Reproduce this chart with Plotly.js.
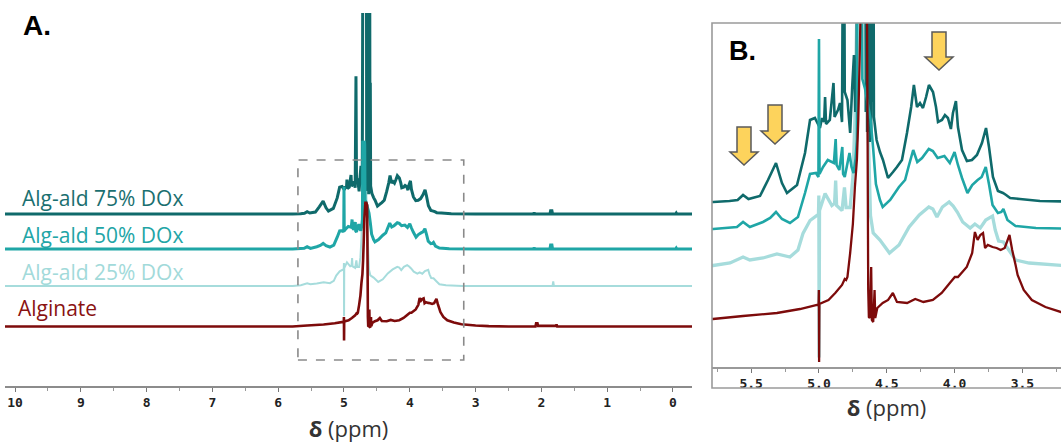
<!DOCTYPE html>
<html>
<head>
<meta charset="utf-8">
<script src="https://cdn.plot.ly/plotly-3.0.1.min.js"></script>
<style>html,body{margin:0;padding:0;background:#fff;}#chart{width:1061px;height:446px;}</style>
</head>
<body>
<div id="chart"></div>
<script>
// ---- Data: chemical shift (ppm) and relative intensity (arbitrary units) ----
const seriesNames = ["Alg-ald 75% DOx", "Alg-ald 50% DOx", "Alg-ald 25% DOx", "Alginate"];

const ppm75 = [10.2,5.90,5.78,5.66,5.60,5.56,5.52,5.435,5.376,5.317,5.273,5.236,5.162,5.103,5.066,5.03,4.993,4.978,4.962,4.955,4.948,4.92,4.893,4.885,4.86,4.845,4.83,4.818,4.81,4.79,4.77,4.755,4.742,4.732,4.722,4.715,4.705,4.69,4.675,4.66,4.655,4.65,4.645,4.64,4.635,4.63,4.625,4.62,4.615,4.61,4.605,4.60,4.595,4.575,4.55,4.528,4.491,4.454,4.425,4.388,4.351,4.32,4.30,4.277,4.255,4.233,4.21,4.189,4.159,4.137,4.122,4.093,4.071,4.049,4.027,4.012,3.99,3.975,3.945,3.909,3.872,3.835,3.798,3.768,3.746,3.717,3.68,3.643,3.62,3.59,3.518,3.37,3.0,2.12,2.11,2.10,1.87,1.86,1.84,1.83,-0.04,-0.05,-0.06,-0.3];
const int75 = [0,0,0,1,2,7,3,6,22,39,19,9,17,49,82,84,74,84,80,105,78,82,119,85,92,99,80,420,110,102,69,115,147,90,110,700,1000,1000,1000,1000,90,1000,70,1000,80,1000,60,1000,70,1000,100,400,85,62,50,42,24,30,35,42,69,95,117,95,99,94,105,117,110,95,80,82,87,84,73,89,101,75,52,41,42,47,59,74,55,25,11,9,7,4,3,1,0,0,4,0,0,10,10,0,0,3,0,0];

const ppm50 = [10.2,5.90,5.78,5.605,5.56,5.51,5.413,5.36,5.317,5.273,5.214,5.155,5.103,5.066,5.022,5.004,5.0,4.996,4.97,4.935,4.89,4.877,4.87,4.85,4.828,4.822,4.81,4.775,4.76,4.745,4.73,4.72,4.715,4.70,4.69,4.685,4.68,4.66,4.64,4.62,4.60,4.58,4.55,4.53,4.475,4.41,4.365,4.34,4.305,4.275,4.24,4.19,4.16,4.125,4.075,4.035,4.0,3.975,3.945,3.905,3.87,3.83,3.80,3.77,3.745,3.72,3.68,3.655,3.64,3.61,3.55,3.4,3.0,2.12,2.11,2.10,1.87,1.86,1.84,1.83,-0.04,-0.05,-0.06,-0.3];
const int50 = [0,0,0,2,7,2,7,11,17,10,6,12,36,55,56,52,190,55,62,69,66,90,64,59,82,55,52,76,62,56,70,90,330,310,330,320,150,140,125,110,80,45,29,22,29,42,49,62,79,67,71,80,78,71,73,66,77,64,51,36,44,49,52,62,44,24,16,17,20,9,3,1,0,0,4,0,0,12,12,0,0,3,0,0];

const ppm25 = [10.2,5.90,5.78,5.656,5.56,5.51,5.413,5.31,5.214,5.155,5.118,5.066,5.015,5.004,5.001,4.999,4.996,4.955,4.905,4.885,4.877,4.87,4.83,4.812,4.80,4.77,4.75,4.735,4.72,4.70,4.68,4.66,4.64,4.62,4.60,4.55,4.48,4.41,4.335,4.26,4.19,4.16,4.13,4.09,4.04,4.01,3.98,3.94,3.885,3.85,3.81,3.77,3.72,3.70,3.675,3.64,3.60,3.55,3.45,3.2,1.83,1.82,1.81,-0.3];
const int25 = [0,0,0,2.5,8.5,5.5,7.5,11.5,8.5,15.5,32,45,50,50,70,-92,55,72,60,62,85,60,55,78,58,58,88,145,260,300,300,280,150,50,32.5,25.5,12.5,20.5,38.5,50.5,58.5,56.5,48.5,58.5,63.5,59.5,53.5,43.5,37.5,41.5,37.5,45.5,49.5,35.5,24.5,23.5,15.5,5.5,2.5,0,0,14,0,0];

const ppmAlg = [10.2,6.5,5.782,5.56,5.31,5.14,5.015,5.003,5.001,4.999,4.997,4.93,4.88,4.83,4.81,4.80,4.79,4.77,4.75,4.735,4.72,4.71,4.70,4.69,4.675,4.66,4.648,4.642,4.637,4.632,4.625,4.615,4.61,4.60,4.59,4.585,4.57,4.53,4.49,4.455,4.425,4.35,4.29,4.23,4.16,4.095,4.035,3.998,3.975,3.91,3.87,3.85,3.83,3.81,3.79,3.775,3.755,3.72,3.69,3.66,3.63,3.595,3.575,3.55,3.535,3.49,3.43,3.33,3.215,3.0,2.8,2.5,2.09,2.08,2.06,2.05,1.78,1.77,1.76,-0.3];
const intAlg = [0,0,0,3,6,10,14,14,29,-43,15,19,26,34,40,39,42,66,95,132,160,200,260,330,377,377,370,200,30,2,1,52,-1,-3,29,1,11,16,19,26,17,16,20,17,19,26,36,42,42,52,66,87,79,84,86,71,74,72,71,69,71,84,69,54,44,29,19,12,7,3,1,0,0,10,10,2,2,6,0,0];

const tickValsB = [5.5, 5.0, 4.5, 4.0, 3.5];

// ---- Geometry / style ----
const W = 1061, H = 446;
const px = x => x / W, py = y => 1 - y / H;
const colors = ["#0f6a6b", "#1fa6a6", "#a6dcdc", "#7d0b0b"];
const labelColors = ["#1a6f70", "#22a5a6", "#a2dada", "#8a1212"];
// pixel baselines (panel A / panel B) and scale
const kA = 3.05;
const axisA = 386, topA = 13, axisB = 367, topB = 23;
const baseA = [214, 249, 286, 326.5];
const baseB = [202, 229, 265.5, 319];
const widthA = [3, 3, 2, 2.6];
const widthB = [2.6, 2.6, 3.3, 2.3];

const xs = [ppm75, ppm50, ppm25, ppmAlg];
const ys = [int75, int50, int25, intAlg];
const order = [2, 0, 1, 3]; // draw order

const traces = [];
order.forEach(i => {
  const offA = (axisA - baseA[i]) * kA;
  traces.push({x: xs[i], y: ys[i].map(v => v + offA), xaxis: 'x', yaxis: 'y', type: 'scatter', mode: 'lines',
    line: {color: colors[i], width: widthA[i], simplify: false}, hoverinfo: 'skip', name: seriesNames[i]});
});
order.forEach(i => {
  const offB = axisB - baseB[i];
  traces.push({x: xs[i], y: ys[i].map(v => v + offB), xaxis: 'x2', yaxis: 'y2', type: 'scatter', mode: 'lines',
    line: {color: colors[i], width: widthB[i], simplify: false}, hoverinfo: 'skip', name: seriesNames[i]});
});

const tickFont = {family: 'DejaVu Sans Mono', size: 13, color: '#222', weight: 'bold'};
const titleFont = {family: 'Open Sans', size: 22, color: '#333'};

function arrow(cx, top, hs, tip) {
  return {type: 'path', xref: 'paper', yref: 'paper',
    path: `M ${px(cx-7)},${py(top)} L ${px(cx+7)},${py(top)} L ${px(cx+7)},${py(hs)} L ${px(cx+14)},${py(hs)} L ${px(cx)},${py(tip)} L ${px(cx-14)},${py(hs)} L ${px(cx-7)},${py(hs)} Z`,
    fillcolor: '#fdd35c', line: {color: '#5a5a5a', width: 1.5}};
}

const annotations = [
  {text: '<b>A.</b>', x: px(21), y: py(25), xref: 'paper', yref: 'paper', xanchor: 'left', yanchor: 'middle', showarrow: false,
   font: {family: 'Liberation Sans', size: 28, color: '#000'}},
  {text: '<b>B.</b>', x: px(727), y: py(51), xref: 'paper', yref: 'paper', xanchor: 'left', yanchor: 'middle', showarrow: false,
   font: {family: 'Liberation Sans', size: 27, color: '#000'}},
];
const labelY = [198, 235, 272, 308];
const labelX = [20, 20, 20, 16];
seriesNames.forEach((n, i) => annotations.push({text: n, x: px(labelX[i]), y: py(labelY[i]), xref: 'paper', yref: 'paper',
  xanchor: 'left', yanchor: 'middle', showarrow: false, font: {family: 'Open Sans', size: 21, color: labelColors[i]}}));

const layout = {
  width: W, height: H, margin: {l: 0, r: 0, t: 0, b: 0}, showlegend: false,
  paper_bgcolor: '#fff', plot_bgcolor: 'rgba(0,0,0,0)',
  xaxis: {domain: [px(5), px(692)], range: [10.152, -0.289], anchor: 'y', showline: true, linecolor: '#8c8c8c', linewidth: 1.5,
    showgrid: false, zeroline: false, ticks: 'outside', ticklen: 4, tickcolor: '#777', tickwidth: 1, dtick: 1, tick0: 0,
    minor: {dtick: 0.5, ticks: 'outside', ticklen: 3, tickcolor: '#999'}, tickfont: tickFont,
    title: {text: '<b>δ</b> (ppm)', font: titleFont, standoff: 12}},
  yaxis: {domain: [py(axisA), py(topA)], range: [0, (axisA - topA) * kA], visible: false, fixedrange: true},
  xaxis2: {domain: [px(712), 1], range: [5.789, 3.215], anchor: 'y2', showline: true, linecolor: '#999', linewidth: 1.5,
    showgrid: false, zeroline: false, ticks: 'outside', ticklen: 4, tickcolor: '#777', tickvals: tickValsB, tickformat: '.1f',
    minor: {dtick: 0.25, ticks: 'outside', ticklen: 3, tickcolor: '#999'}, tickfont: tickFont,
    title: {text: '<b>δ</b> (ppm)', font: titleFont, standoff: 10}},
  yaxis2: {domain: [py(axisB), py(topB)], range: [0, axisB - topB], visible: false, fixedrange: true},
  shapes: [
    {type: 'rect', xref: 'x', yref: 'paper', x0: 5.70, x1: 3.18, y0: py(360), y1: py(160),
     line: {color: '#8a8a8a', width: 1.6, dash: 'dash'}, fillcolor: 'rgba(0,0,0,0)'},
    {type: 'rect', xref: 'paper', yref: 'paper', x0: px(712), x1: 1.02, y0: py(388), y1: py(23),
     line: {color: '#9a9a9a', width: 1.6}, fillcolor: 'rgba(0,0,0,0)'},
    arrow(744, 127, 152, 165),
    arrow(775, 105, 131, 144),
    arrow(939, 32, 57, 70)
  ],
  annotations: annotations
};

Plotly.newPlot('chart', traces, layout, {displayModeBar: false, staticPlot: true});
</script>
</body>
</html>
